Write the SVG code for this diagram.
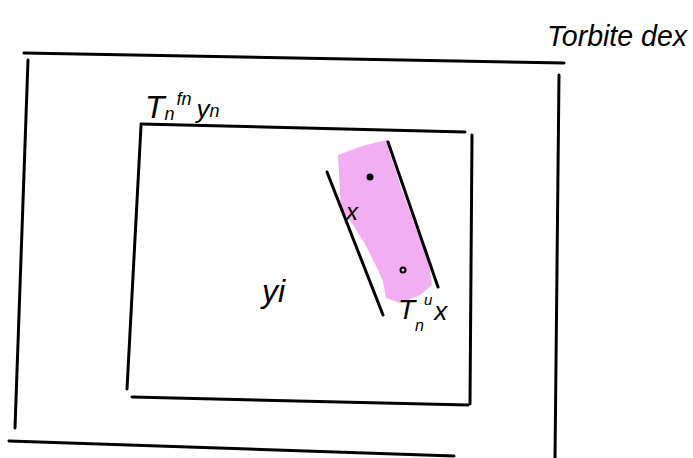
<svg xmlns="http://www.w3.org/2000/svg" width="693" height="458" viewBox="0 0 693 458">
<style>
.ln{stroke:#000;stroke-width:3;stroke-linecap:round;fill:none}
.hw{font-family:"Liberation Sans",sans-serif;font-style:italic;fill:#000}
</style>
<rect width="693" height="458" fill="#fff"/>
<g id="outer-frame">
<line class="ln" x1="24" y1="53" x2="564" y2="63"/>
<line class="ln" x1="28" y1="60" x2="15" y2="428"/>
<line class="ln" x1="9" y1="441" x2="454" y2="456"/>
<line class="ln" x1="559" y1="75" x2="555" y2="460"/>
</g>
<g id="inner-frame">
<line class="ln" x1="141" y1="124" x2="465" y2="132"/>
<line class="ln" x1="141" y1="126" x2="127" y2="389"/>
<line class="ln" x1="132" y1="397" x2="468" y2="405"/>
<line class="ln" x1="472" y1="135" x2="470" y2="404"/>
</g>
<g id="orbit-band">
<polygon fill="#f2aef2" points="338,155 362,146 387,140 390,155 395,168 400,185 405,198 410,212 415,226 420,238 427,250 432,285 420,295 400,303 386,298 383,282 378,270 372,258 366,246 360,236 354,226 348,218 341,210"/>
<line class="ln" x1="327" y1="172" x2="383" y2="315"/>
<line class="ln" x1="388" y1="142" x2="438" y2="287"/>
<circle cx="370" cy="177" r="3.5" fill="#000"/>
<circle cx="403" cy="270" r="2.5" fill="none" stroke="#000" stroke-width="2"/>
<text class="hw" x="346" y="220" font-size="24">x</text>
<text class="hw" x="398" y="319" font-size="28">T<tspan font-size="16" dy="12">n</tspan><tspan font-size="15" dy="-26">u</tspan><tspan font-size="26" dy="15" dx="2">x</tspan></text>
</g>
<g id="labels">
<text class="hw" x="145" y="118" font-size="32">T<tspan font-size="18" dy="2">n</tspan><tspan font-size="18" dy="-15" dx="2">fn</tspan><tspan font-size="26" dy="13" dx="5">y</tspan><tspan font-size="18" dy="-1">n</tspan></text>
<text class="hw" x="262" y="302" font-size="32">yi</text>
<text class="hw" x="547" y="46" font-size="30" textLength="140" lengthAdjust="spacingAndGlyphs">Torbite dex</text>
</g>
</svg>
